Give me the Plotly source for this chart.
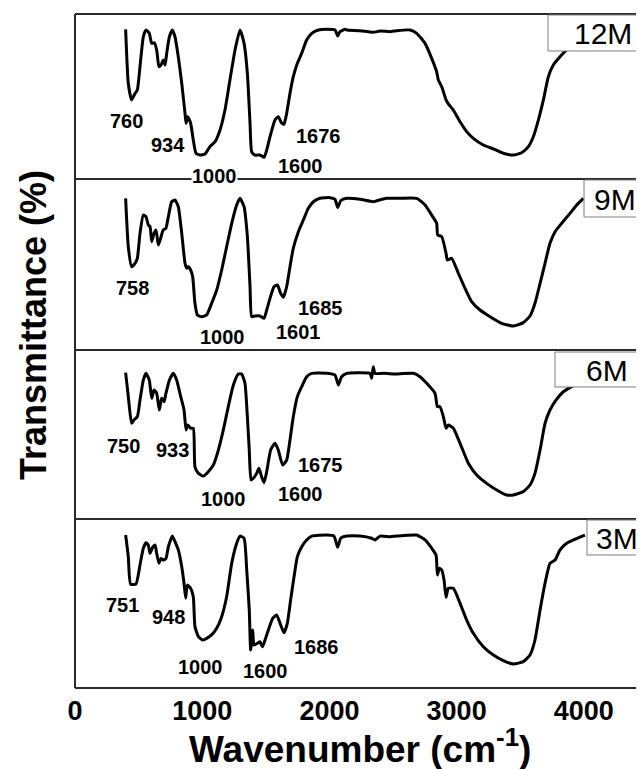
import plotly.graph_objects as go
from plotly.subplots import make_subplots

# ---------------- data ----------------
wn_12m = [398, 419, 445, 472, 490, 511, 537, 558, 584, 603, 624, 642, 660, 676, 694, 708, 721, 742, 765,
          786, 812, 839, 865, 873, 886, 909, 930, 951, 983, 1022, 1061, 1101, 1140, 1179, 1218, 1258, 1297,
          1329, 1355, 1376, 1389, 1415, 1454, 1486, 1507, 1533, 1572, 1598, 1625, 1643, 1664, 1690, 1716,
          1748, 1782, 1821, 1861, 1913, 1979, 2044, 2065, 2083, 2123, 2136, 2241, 2345, 2398, 2476, 2529,
          2634, 2686, 2752, 2804, 2843, 2856, 2883, 2917, 2935, 2974, 3027, 3079, 3131, 3210, 3289, 3367,
          3446, 3511, 3564, 3603, 3643, 3682, 3721, 3760, 3813, 3865, 3930, 4000]
t_12m = [90.7, 58.0, 47.9, 51.9, 53.9, 68.1, 86.2, 90.3, 88.3, 82.2, 82.6, 78.2, 68.1, 69.1, 72.1, 69.1, 76.2,
         86.2, 90.3, 86.2, 74.1, 58.0, 39.8, 33.8, 37.8, 33.8, 23.6, 15.6, 14.5, 15.2, 19.6, 22.6, 29.7, 41.8,
         60.0, 78.2, 90.3, 82.2, 64.0, 33.8, 16.5, 14.5, 14.5, 13.1, 17.6, 25.6, 35.8, 37.8, 33.8, 33.3, 39.8,
         51.9, 62.0, 70.1, 76.2, 84.2, 88.3, 90.3, 90.7, 90.3, 86.7, 89.3, 90.7, 90.3, 89.9, 88.9, 89.7, 89.3,
         89.9, 90.3, 88.3, 82.2, 73.1, 65.0, 60.0, 55.9, 47.9, 45.5, 41.8, 34.7, 28.7, 24.6, 20.6, 18.2, 15.6,
         14.5, 15.9, 19.6, 25.6, 35.8, 47.9, 62.0, 69.1, 74.1, 78.2, 82.0, 86.0]

wn_9m = [398, 419, 445, 472, 490, 511, 537, 558, 576, 590, 603, 621, 637, 655, 673, 694, 715, 734, 760, 786,
         812, 839, 865, 878, 891, 909, 925, 943, 962, 996, 1035, 1074, 1114, 1153, 1192, 1232, 1271, 1297,
         1329, 1355, 1376, 1389, 1415, 1454, 1486, 1507, 1533, 1564, 1591, 1617, 1638, 1664, 1690, 1716,
         1756, 1795, 1834, 1874, 1926, 2005, 2044, 2065, 2089, 2136, 2241, 2345, 2372, 2450, 2555, 2686,
         2752, 2804, 2843, 2851, 2883, 2917, 2927, 2961, 3014, 3066, 3118, 3184, 3263, 3354, 3446, 3524,
         3577, 3616, 3656, 3695, 3734, 3774, 3826, 3891, 3944, 3996]
t_9m = [88.7, 60.4, 48.7, 50.7, 53.6, 68.2, 78.9, 78.0, 73.1, 72.1, 63.3, 68.2, 70.2, 61.4, 65.3, 70.2, 71.2,
        78.0, 86.7, 87.7, 83.8, 68.2, 50.7, 47.8, 48.7, 46.8, 42.9, 27.3, 20.5, 19.5, 20.5, 27.3, 35.1, 46.8,
        60.4, 74.1, 84.8, 88.7, 83.8, 66.3, 37.0, 19.5, 19.9, 19.9, 18.5, 23.4, 30.2, 37.0, 38.0, 33.1, 30.8,
        37.0, 48.7, 59.5, 69.2, 76.0, 82.9, 86.7, 88.7, 89.1, 88.1, 83.4, 87.3, 88.7, 88.1, 86.7, 87.3, 88.7,
        88.7, 88.7, 84.8, 78.9, 74.1, 67.3, 66.3, 56.5, 52.6, 53.6, 44.8, 36.1, 28.3, 23.4, 19.5, 15.6, 14.0,
        16.0, 19.9, 27.3, 39.0, 50.7, 62.4, 69.2, 74.1, 79.9, 84.8, 88.7]

wn_6m = [398, 419, 445, 464, 490, 511, 537, 558, 584, 603, 621, 642, 663, 681, 700, 715, 742, 773, 799, 831,
         857, 873, 886, 909, 930, 943, 970, 1009, 1048, 1088, 1127, 1166, 1205, 1245, 1284, 1310, 1336, 1355,
         1370, 1384, 1402, 1428, 1446, 1467, 1486, 1507, 1538, 1572, 1598, 1632, 1664, 1690, 1716, 1748,
         1782, 1821, 1861, 1979, 2044, 2070, 2096, 2136, 2241, 2319, 2332, 2345, 2358, 2424, 2503, 2660,
         2712, 2765, 2830, 2849, 2869, 2896, 2917, 2935, 2974, 3027, 3092, 3158, 3236, 3315, 3394, 3446,
         3524, 3577, 3616, 3656, 3695, 3734, 3781, 3839, 3904, 3960, 4000]
t_6m = [86.6, 72.4, 56.6, 58.6, 60.5, 70.4, 82.2, 86.2, 82.2, 71.4, 76.3, 74.4, 64.5, 71.4, 69.4, 74.4, 82.2,
        86.2, 82.2, 72.4, 64.5, 52.7, 55.6, 53.7, 53.7, 30.9, 27.0, 25.4, 28.0, 32.0, 40.8, 52.7, 66.5, 79.3,
        85.8, 85.8, 80.3, 60.5, 40.8, 23.1, 24.1, 27.0, 30.0, 25.0, 21.5, 28.0, 40.8, 44.8, 40.8, 32.0, 34.9,
        46.7, 60.5, 72.4, 78.3, 84.2, 86.2, 86.2, 85.2, 79.3, 84.2, 86.2, 86.6, 86.2, 83.3, 90.1, 86.2, 86.2,
        85.8, 86.2, 84.2, 80.3, 74.4, 66.5, 66.5, 60.5, 53.7, 55.6, 53.7, 44.8, 33.0, 26.0, 21.1, 17.2, 14.2,
        14.2, 16.2, 20.1, 27.0, 40.8, 56.6, 64.5, 70.4, 75.3, 78.3, 80.5, 82.0]

wn_3m = [398, 419, 437, 479, 511, 537, 558, 576, 590, 611, 629, 642, 660, 676, 694, 715, 734, 765, 786, 812,
         839, 857, 870, 883, 909, 930, 943, 970, 1004, 1035, 1074, 1114, 1153, 1192, 1232, 1271, 1297, 1329,
         1350, 1370, 1381, 1397, 1407, 1433, 1454, 1473, 1494, 1520, 1554, 1585, 1612, 1643, 1669, 1695,
         1722, 1748, 1782, 1821, 1861, 1979, 2036, 2065, 2089, 2136, 2241, 2332, 2358, 2398, 2476, 2529,
         2686, 2752, 2804, 2838, 2849, 2864, 2883, 2901, 2917, 2935, 2974, 3027, 3079, 3131, 3210, 3289,
         3367, 3446, 3524, 3577, 3616, 3656, 3695, 3734, 3774, 3813, 3865, 3918, 4009]
t_3m = [90.5, 77.7, 61.5, 61.5, 72.8, 82.7, 86.0, 84.6, 79.7, 83.3, 84.6, 79.7, 73.8, 76.7, 75.7, 76.7, 83.6,
        89.9, 86.6, 81.7, 71.8, 62.0, 53.1, 60.9, 59.0, 54.0, 36.3, 30.4, 28.4, 29.4, 31.4, 35.3, 42.2, 54.0,
        73.8, 85.6, 89.9, 88.6, 69.8, 46.2, 22.5, 34.3, 25.4, 26.4, 27.4, 24.4, 28.4, 34.3, 41.2, 43.2, 38.3,
        32.7, 38.3, 52.1, 65.9, 77.7, 83.6, 87.6, 89.9, 90.5, 89.9, 83.3, 88.6, 89.9, 89.9, 88.6, 87.6, 89.9,
        89.5, 89.9, 90.5, 87.6, 82.7, 78.7, 66.9, 70.8, 69.8, 63.9, 53.7, 59.0, 59.0, 50.1, 40.2, 32.4, 24.4,
        19.5, 16.2, 14.2, 15.6, 19.5, 28.4, 46.2, 62.0, 73.8, 75.7, 81.7, 85.6, 87.6, 90.5]

# peak annotations
peaks_12m_text = ["760", "934", "1000", "1600", "1676"]
peaks_12m_x = [406, 729, 1095, 1774, 1913]
peaks_12m_y = [35.3, 20.6, 2.0, 8.1, 26.1]

peaks_9m_text = ["758", "1000", "1601", "1685"]
peaks_9m_x = [453, 1158, 1756, 1926]
peaks_9m_y = [36.1, 7.8, 10.7, 24.4]

peaks_6m_text = ["750", "933", "1000", "1600", "1675"]
peaks_6m_x = [380, 768, 1171, 1774, 1926]
peaks_6m_y = [43.2, 40.8, 11.8, 14.6, 32.0]

peaks_3m_text = ["751", "948", "1000", "1600", "1686"]
peaks_3m_x = [375, 734, 983, 1499, 1900]
peaks_3m_y = [49.1, 41.8, 12.6, 10.1, 24.4]

panel_names = ["12M", "9M", "6M", "3M"]
x_ticks = [0, 1000, 2000, 3000, 4000]
x_title = "Wavenumber (cm<sup>-1</sup>)"
y_title = "Transmittance (%)"

# ---------------- layout helpers (styling) ----------------
OFF = 8                      # page body margin of the html page
W, H = 644 - OFF, 769 - OFF
ML, MR, MT = 75 - OFF, 0, 14 - OFF
MB = H - (688 - OFF)
panel_px = [(14, 179), (179, 350), (350, 519), (519, 688)]   # top, bottom window pixel of each panel
ph = H - MT - MB
pw = W - ML - MR


def py(p):
    """window pixel row -> paper y"""
    return (H - MB - (p - OFF)) / ph


def px(p):
    """window pixel column -> paper x"""
    return (p - OFF - ML) / pw


series = [
    (wn_12m, t_12m, peaks_12m_text, peaks_12m_x, peaks_12m_y),
    (wn_9m, t_9m, peaks_9m_text, peaks_9m_x, peaks_9m_y),
    (wn_6m, t_6m, peaks_6m_text, peaks_6m_x, peaks_6m_y),
    (wn_3m, t_3m, peaks_3m_text, peaks_3m_x, peaks_3m_y),
]

fig = make_subplots(rows=4, cols=1, shared_xaxes=True, vertical_spacing=0)

FONT = "Arial, Liberation Sans, sans-serif"

for i, (xs, ys, ptxt, pxs, pys) in enumerate(series):
    row = i + 1
    fig.add_trace(go.Scatter(x=xs, y=ys, mode="lines",
                             line=dict(color="black", width=3, shape="spline", smoothing=0.5),
                             hoverinfo="skip", showlegend=False), row=row, col=1)
    for t, xx, yy in zip(ptxt, pxs, pys):
        fig.add_annotation(x=xx, y=yy, text=t, showarrow=False, row=row, col=1,
                           font=dict(family=FONT, size=20, color="black", weight="bold"),
                           bgcolor="white" if yy < 4 else "rgba(0,0,0,0)", borderpad=0)
    top, bot = panel_px[i]
    yname = "yaxis" if row == 1 else f"yaxis{row}"
    fig.layout[yname].update(domain=[py(bot), py(top)], range=[0, 100],
                             showticklabels=False, showgrid=False, zeroline=False,
                             showline=False, ticks="")

for row in range(1, 5):
    xname = "xaxis" if row == 1 else f"xaxis{row}"
    fig.layout[xname].update(range=[0, 4473], showgrid=False, zeroline=False,
                             showline=False, ticks="", tickvals=x_ticks,
                             showticklabels=(row == 4))
fig.layout.xaxis4.update(tickfont=dict(family=FONT, size=27, color="black", weight="bold"),
                         ticklabelstandoff=4)

shapes = []
# frame: left edge + panel separators
shapes.append(dict(type="line", xref="paper", yref="paper", x0=0, x1=0, y0=0, y1=1,
                   line=dict(color="#2b2b2b", width=2), layer="above"))
for yb in [14, 179, 350, 519, 688]:
    shapes.append(dict(type="line", xref="paper", yref="paper", x0=0, x1=1.02,
                       y0=py(yb), y1=py(yb), line=dict(color="#2b2b2b", width=2), layer="above"))

# sample label boxes (window pixels: box left, box top, box bottom, text x, text y)
boxes = [(548, 15, 51, 603, 33), (584, 180, 217, 615, 199), (555, 352, 387, 607, 370), (587, 520, 555, 617, 538)]
for name, (bx0, by0, by1, tx, ty) in zip(panel_names, boxes):
    shapes.append(dict(type="rect", xref="paper", yref="paper", x0=px(bx0), x1=px(700),
                       y0=py(by1), y1=py(by0), line=dict(color="#7f7f7f", width=1),
                       fillcolor="white", layer="above"))
    fig.add_annotation(xref="paper", yref="paper", x=px(tx), y=py(ty), text=name,
                       showarrow=False, xanchor="center", yanchor="middle",
                       font=dict(family=FONT, size=30, color="black"))

fig.add_annotation(xref="paper", yref="paper", x=px(359.5), y=py(746), text=x_title,
                   showarrow=False, xanchor="center", yanchor="middle",
                   font=dict(family=FONT, size=37, color="black", weight="bold"))
fig.add_annotation(xref="paper", yref="paper", x=px(33), y=py(325), text=y_title,
                   showarrow=False, xanchor="center", yanchor="middle", textangle=-90,
                   font=dict(family=FONT, size=36, color="black", weight="bold"))

fig.update_layout(width=W, height=H, margin=dict(l=ML, r=MR, t=MT, b=MB),
                  plot_bgcolor="white", paper_bgcolor="white", showlegend=False,
                  shapes=shapes)

fig.write_html("out.html")
